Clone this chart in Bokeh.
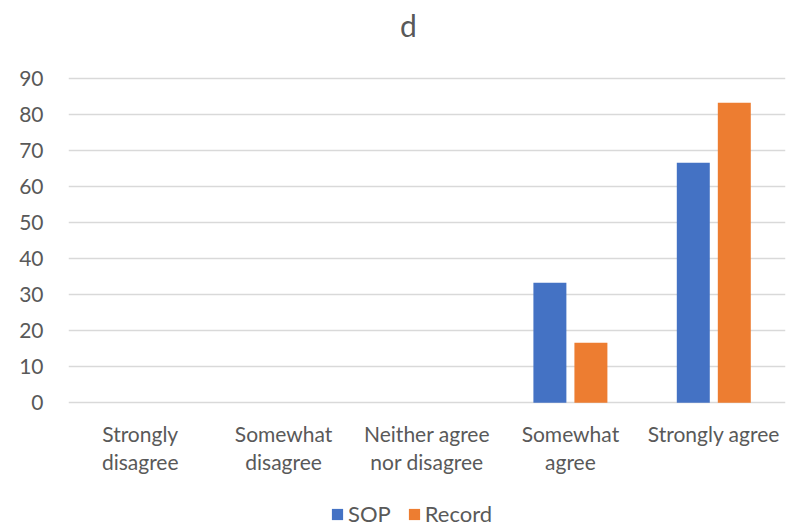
from bokeh.plotting import figure
from bokeh.models import ColumnDataSource, FactorRange, Range1d, Legend, LegendItem, Label
from bokeh.transform import dodge
from bokeh.embed import file_html
from bokeh.resources import INLINE

categories = ["Strongly disagree", "Somewhat disagree", "Neither agree nor disagree", "Somewhat agree", "Strongly agree"]
label_line1 = ["Strongly", "Somewhat", "Neither agree", "Somewhat", "Strongly agree"]
label_line2 = ["disagree", "disagree", "nor disagree", "agree", ""]
sop = [0, 0, 0, 33.33, 66.67]
record = [0, 0, 0, 16.67, 83.33]
series_names = ["SOP", "Record"]
y_ticks = [0, 10, 20, 30, 40, 50, 60, 70, 80, 90]
chart_title = "d"

FONT = "Lato"
TXT = "#595959"

src = ColumnDataSource(dict(cat=categories, sop=sop, record=record))

# frame covers full height so that texts and legend below/above the bars are not clipped
p = figure(x_range=FactorRange(factors=categories, range_padding=0),
           y_range=Range1d(-35.47, 111.75),
           width=796, height=530, frame_width=717, frame_height=530,
           min_border_left=68, min_border_right=11, min_border_top=0, min_border_bottom=0,
           output_backend="svg", toolbar_location=None)
p.outline_line_color = None
p.background_fill_color = "white"

r1 = p.vbar(x=dodge("cat", -0.143, range=p.x_range), top="sop", width=0.23, source=src,
            fill_color="#4472C4", line_color=None)
r2 = p.vbar(x=dodge("cat", 0.143, range=p.x_range), top="record", width=0.23, source=src,
            fill_color="#ED7D31", line_color=None)

p.xgrid.grid_line_color = None
p.ygrid.grid_line_color = "#D9D9D9"
p.ygrid.grid_line_width = 1.3
p.yaxis.ticker = y_ticks

p.xaxis.visible = False
ya = p.yaxis[0]
ya.axis_line_color = None
ya.major_tick_line_color = None
ya.minor_tick_line_color = None
ya.major_label_text_font = FONT
ya.major_label_text_font_size = "21px"
ya.major_label_text_color = TXT
ya.major_label_standoff = 19

# category labels (two lines) below the bars
for i, (l1, l2) in enumerate(zip(label_line1, label_line2)):
    for txt, yy in ((l1, -8.5), (l2, -16.3)):
        if txt:
            p.add_layout(Label(x=i + 0.5, y=yy, text=txt, text_align="center",
                               text_baseline="alphabetic", text_font=FONT,
                               text_font_size="21px", text_color=TXT))

# title
p.add_layout(Label(x=2.37, y=105.0, text=chart_title, text_align="center",
                   text_baseline="alphabetic", text_font=FONT, text_font_size="30px",
                   text_color=TXT))

legend = Legend(items=[LegendItem(label=series_names[0], renderers=[r1]),
                       LegendItem(label=series_names[1], renderers=[r2])],
                orientation="horizontal", location=(262, 3),
                label_text_font=FONT, label_text_font_size="22px", label_text_color=TXT,
                glyph_width=14, glyph_height=14, spacing=16, label_standoff=4,
                border_line_color=None, background_fill_alpha=0, padding=0, margin=0)
p.add_layout(legend, "center")

open("out.html", "w").write(file_html(p, INLINE))
